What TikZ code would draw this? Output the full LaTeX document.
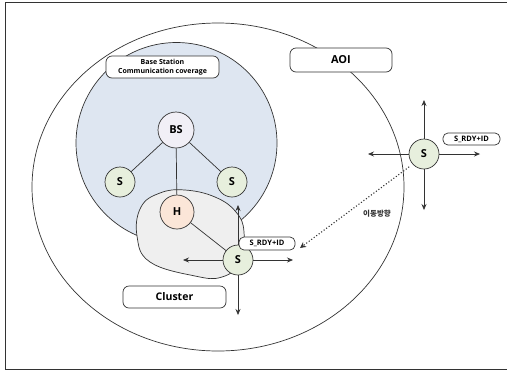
\documentclass[tikz,border=0pt]{standalone}
\usepackage{fontspec}
\setmainfont{Open Sans}
\newfontfamily\kr{Noto Sans CJK KR}
\usetikzlibrary{arrows.meta}
\definecolor{bsblue}{HTML}{DEE6F1}
\definecolor{bsfill}{HTML}{F1EFF6}
\definecolor{sfill}{HTML}{E7EFDD}
\definecolor{hfill}{HTML}{FBE6D8}
\definecolor{clfill}{HTML}{EFEFEF}
\definecolor{ln}{HTML}{333333}
\tikzset{
  thinl/.style={draw=ln, line width=0.7pt},
  snode/.style={circle, thinl, fill=sfill, minimum size=30pt, inner sep=0pt, font=\bfseries\fontsize{11}{11}\selectfont},
  lbl/.style={thinl, rounded corners=6pt, fill=white, inner sep=0pt, align=center},
  arr/.style={thinl, -{Stealth[length=6pt,width=5pt]}},
}
\begin{document}
\begin{tikzpicture}[x=1pt,y=-1pt]
\useasboundingbox (0,0) rectangle (508,373);
\draw[draw=ln, line width=1pt] (5,2) -- (5,369) -- (507,369);
\draw[draw=ln, line width=1pt] (5,2) -- (507,2);
% AOI ellipse
\draw[thinl] (218,187) ellipse [x radius=186, y radius=164];
% base station coverage
\draw[thinl, fill=bsblue] (176.5,143) circle [radius=100.5];
% cluster blob
\draw[thinl, fill=clfill] plot[smooth cycle, tension=0.7] coordinates {(137,236) (141,207) (160,193) (185,190) (215,197) (236,212) (244,232) (240,262) (222,277) (195,276) (150,262)};
% labels
\node[lbl, minimum width=113pt, minimum height=22pt, font=\bfseries\fontsize{7}{9.5}\selectfont] (bslbl) at (162.5,67) {Base Station\\Communication coverage};
\node[lbl, minimum width=102pt, minimum height=24pt, font=\bfseries\fontsize{11}{11}\selectfont] (aoi) at (341,60) {AOI};
\node[lbl, minimum width=103pt, minimum height=22pt, font=\bfseries\fontsize{10.5}{11}\selectfont] (cluster) at (174.5,297) {Cluster};
% nodes
\node[circle, thinl, fill=bsfill, minimum size=36pt, inner sep=0pt, font=\bfseries\fontsize{11}{11}\selectfont] (bs) at (176,130) {BS};
\node[snode] (s1) at (120,182) {S};
\node[snode] (s2) at (232,182) {S};
\node[circle, thinl, fill=hfill, minimum size=34pt, inner sep=0pt, font=\bfseries\fontsize{11}{11}\selectfont] (h) at (177,212) {H};
\draw[thinl] (bs) -- (s1);
\draw[thinl] (bs) -- (s2);
\draw[thinl] (bs) -- (h);
% cluster S
\coordinate (cu) at (238,205);
\coordinate (cd) at (238,315);
\coordinate (cl) at (183,260);
\coordinate (cr) at (293,260);
\node[snode] (sc) at (238,260) {S};
\draw[thinl] (h) -- (sc);
\draw[arr] (sc) -- (cu);
\draw[arr] (sc) -- (cd);
\draw[arr] (sc) -- (cl);
\draw[arr] (sc) -- (cr);
\node[lbl, rounded corners=5pt, minimum width=56pt, minimum height=13pt, font=\bfseries\fontsize{7.5}{8}\selectfont] (rdy1) at (267,243.5) {S\_RDY+ID};
% moving S
\coordinate (mu) at (424,100);
\coordinate (md) at (424,210);
\coordinate (ml) at (368,154);
\coordinate (mr) at (480,154);
\node[snode] (sm) at (424,154) {S};
\draw[arr] (sm) -- (mu);
\draw[arr] (sm) -- (md);
\draw[arr] (sm) -- (ml);
\draw[arr] (sm) -- (mr);
\node[lbl, rounded corners=5pt, minimum width=57pt, minimum height=12pt, font=\bfseries\fontsize{7.5}{8}\selectfont] (rdy2) at (471.5,139) {S\_RDY+ID};
% movement direction
\coordinate (mv) at (300,248);
\draw[draw=ln, line width=1.1pt, dotted, -{Stealth[length=6pt,width=6pt]}] (sm.225) ++(-4,2) -- (mv);
\node[font=\kr\bfseries\fontsize{7.5}{8}\selectfont, text=ln] (mvl) at (377,214) {이동방향};
\end{tikzpicture}
\end{document}
